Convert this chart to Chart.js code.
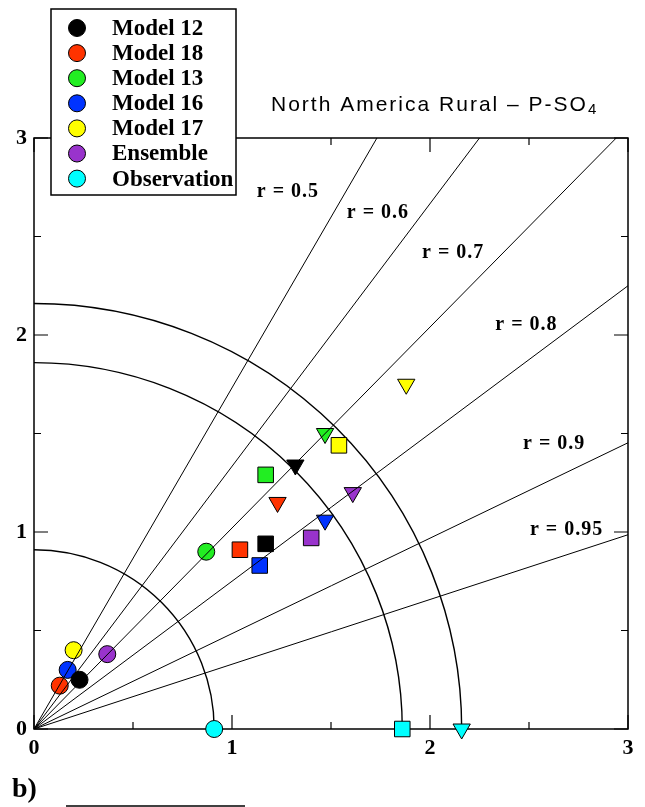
<!DOCTYPE html>
<html lang="en">
<head>
    <meta charset="UTF-8">
    <title>North America Rural - P-SO4</title>
    <script src="https://cdn.jsdelivr.net/npm/chart.js"></script>
    <style>
        html, body { margin: 0; padding: 0; background: #fff; }
        #chart { display: block; }
    </style>
</head>
<body>
    <canvas id="chart" width="645" height="807"></canvas>

    <script>
        // Legend order of the series
        const models = ['Model 12', 'Model 18', 'Model 13', 'Model 16', 'Model 17', 'Ensemble', 'Observation'];
        const colors = ['#000000', '#ff3300', '#22ee22', '#0033ff', '#ffff00', '#9933cc', '#00ffff'];

        // Circle markers
        const circleX = [0.23, 0.13, 0.87, 0.17, 0.20, 0.37, 0.91];
        const circleY = [0.25, 0.22, 0.90, 0.30, 0.40, 0.38, 0.00];
        // Square markers
        const squareX = [1.17, 1.04, 1.17, 1.14, 1.54, 1.40, 1.86];
        const squareY = [0.94, 0.91, 1.29, 0.83, 1.44, 0.97, 0.00];
        // Triangle markers
        const triangleX = [1.32, 1.23, 1.47, 1.47, 1.88, 1.61, 2.16];
        const triangleY = [1.34, 1.15, 1.50, 1.06, 1.75, 1.20, 0.00];

        // Correlation lines
        const correlations = [0.5, 0.6, 0.7, 0.8, 0.9, 0.95];
        const corrLabels = ['r = 0.5', 'r = 0.6', 'r = 0.7', 'r = 0.8', 'r = 0.9', 'r = 0.95'];

        // Axis ticks
        const tickValues = [0, 0.5, 1, 1.5, 2, 2.5, 3];
        const tickLabels = ['0', '', '1', '', '2', '', '3'];

        // where the r labels sit (data units, left / middle)
        const corrLabelAt = [[1.125, 2.725], [1.58, 2.62], [1.96, 2.415], [2.33, 2.05], [2.47, 1.45], [2.505, 1.01]];

        const obsIndex = models.indexOf('Observation');
        const arcRadii = [circleX[obsIndex], squareX[obsIndex], triangleX[obsIndex]];

        const serif = '"Liberation Serif", "Times New Roman", serif';
        const sans = '"Liberation Sans", Arial, sans-serif';

        const pointSets = models.map((name, i) => ({
            label: name,
            type: 'scatter',
            data: [
                { x: circleX[i], y: circleY[i] },
                { x: squareX[i], y: squareY[i] },
                { x: triangleX[i], y: triangleY[i] }
            ],
            pointStyle: ['circle', 'rect', 'triangle'],
            pointRotation: [0, 0, 180],
            pointRadius: [8.5, 11, 10],
            pointBackgroundColor: colors[i],
            pointBorderColor: '#000',
            pointBorderWidth: 1,
            clip: false,
            order: 2
        }));

        const lineSets = correlations.map(r => ({
            label: 'r' + r,
            type: 'line',
            data: [{ x: 0, y: 0 }, { x: 5 * r, y: 5 * Math.sqrt(1 - r * r) }],
            borderColor: '#000',
            borderWidth: 1,
            pointRadius: 0,
            clip: 0,
            order: 0
        }));

        // arcs, frame, ticks, labels, legend, title
        const decor = {
            id: 'decor',
            beforeDatasetsDraw(chart) {
                const ctx = chart.ctx, a = chart.chartArea;
                const xs = chart.scales.x, ys = chart.scales.y;
                const cx = xs.getPixelForValue(0), cy = ys.getPixelForValue(0);
                ctx.save();
                ctx.beginPath();
                ctx.rect(a.left, a.top, a.right - a.left, a.bottom - a.top);
                ctx.clip();
                ctx.strokeStyle = '#000';
                ctx.lineWidth = 1.4;
                arcRadii.forEach(r => {
                    const rx = xs.getPixelForValue(r) - cx;
                    const ry = cy - ys.getPixelForValue(r);
                    ctx.beginPath();
                    ctx.ellipse(cx, cy, rx, ry, 0, -Math.PI / 2, 0);
                    ctx.stroke();
                });
                ctx.restore();

                // frame + inward ticks
                ctx.save();
                ctx.strokeStyle = '#000';
                ctx.lineWidth = 1.5;
                ctx.strokeRect(a.left, a.top, a.right - a.left, a.bottom - a.top);
                ctx.lineWidth = 1.2;
                tickValues.forEach(v => {
                    const len = Number.isInteger(v) ? 14 : 7;
                    const px = xs.getPixelForValue(v), py = ys.getPixelForValue(v);
                    ctx.beginPath();
                    ctx.moveTo(px, a.bottom); ctx.lineTo(px, a.bottom - len);
                    ctx.moveTo(px, a.top); ctx.lineTo(px, a.top + len);
                    ctx.moveTo(a.left, py); ctx.lineTo(a.left + len, py);
                    ctx.moveTo(a.right, py); ctx.lineTo(a.right - len, py);
                    ctx.stroke();
                });
                ctx.restore();
            },
            afterDatasetsDraw(chart) {
                const ctx = chart.ctx;
                const xs = chart.scales.x, ys = chart.scales.y;
                ctx.save();
                ctx.fillStyle = '#000';
                ctx.font = 'bold 20px ' + serif;
                ctx.letterSpacing = '1px';
                ctx.textBaseline = 'middle';
                ctx.textAlign = 'left';
                corrLabels.forEach((t, i) => {
                    ctx.fillText(t, xs.getPixelForValue(corrLabelAt[i][0]), ys.getPixelForValue(corrLabelAt[i][1]));
                });
                ctx.restore();
            },
            afterDraw(chart) {
                const ctx = chart.ctx;
                ctx.save();

                // legend box
                ctx.fillStyle = '#fff';
                ctx.fillRect(51, 9, 185, 186);
                ctx.strokeStyle = '#000';
                ctx.lineWidth = 1.5;
                ctx.strokeRect(51, 9, 185, 186);
                ctx.font = 'bold 23px ' + serif;
                ctx.textBaseline = 'middle';
                ctx.textAlign = 'left';
                pointSets.forEach((ds, i) => {
                    const y = 28 + i * 25.1;
                    ctx.beginPath();
                    ctx.arc(77, y, 8.5, 0, Math.PI * 2);
                    ctx.fillStyle = ds.pointBackgroundColor;
                    ctx.fill();
                    ctx.lineWidth = 1;
                    ctx.stroke();
                    ctx.fillStyle = '#000';
                    ctx.fillText(ds.label, 112, y + 1);
                });

                // title with subscript
                ctx.textBaseline = 'alphabetic';
                ctx.font = '21px ' + sans;
                ctx.letterSpacing = '2px';
                const main = 'North America Rural \u2013 P-SO';
                ctx.fillText(main, 271, 111);
                const w = ctx.measureText(main).width;
                ctx.letterSpacing = '0px';
                ctx.font = '15px ' + sans;
                ctx.fillText('4', 271 + w, 114);

                // panel tag
                ctx.font = 'bold 28px ' + serif;
                ctx.fillText('b)', 12, 797);
                ctx.lineWidth = 1.5;
                ctx.beginPath();
                ctx.moveTo(66, 806);
                ctx.lineTo(245, 806);
                ctx.stroke();
                ctx.restore();
            }
        };

        const tickFont = { family: serif, size: 22, weight: 'bold' };

        new Chart(document.getElementById('chart').getContext('2d'), {
            data: { datasets: [...lineSets, ...pointSets] },
            options: {
                responsive: false,
                animation: false,
                events: [],
                layout: { padding: { top: 138, right: 17, left: 0, bottom: 0 } },
                plugins: { legend: { display: false }, tooltip: { enabled: false }, title: { display: false } },
                scales: {
                    x: {
                        type: 'linear', min: 0, max: 3,
                        afterBuildTicks: s => { s.ticks = tickValues.map(v => ({ value: v })); },
                        afterFit: s => { s.height = 78; },
                        grid: { display: false, drawTicks: false },
                        border: { display: false },
                        ticks: {
                            autoSkip: false, maxRotation: 0, padding: 6, color: '#000', font: tickFont,
                            callback: (v, i) => tickLabels[i]
                        }
                    },
                    y: {
                        type: 'linear', min: 0, max: 3,
                        afterBuildTicks: s => { s.ticks = tickValues.map(v => ({ value: v })); },
                        afterFit: s => { s.width = 34; },
                        grid: { display: false, drawTicks: false },
                        border: { display: false },
                        ticks: {
                            autoSkip: false, padding: 7, color: '#000', font: tickFont,
                            callback: (v, i) => tickLabels[i]
                        }
                    }
                }
            },
            plugins: [decor]
        });
    </script>
</body>
</html>
